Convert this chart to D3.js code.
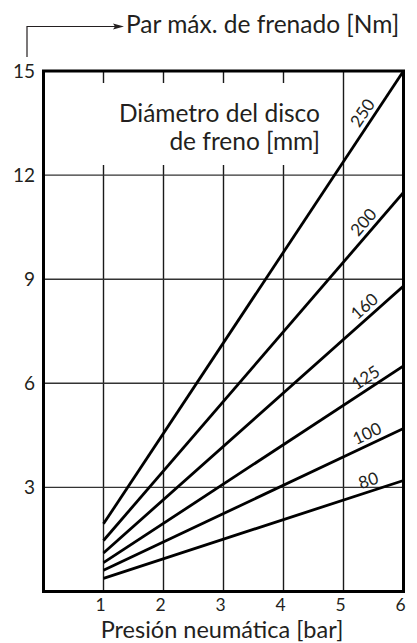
<!DOCTYPE html>
<html><head><meta charset="utf-8">
<script src="https://cdn.jsdelivr.net/npm/d3@7"></script>
<style>body{margin:0;background:#fff}svg{display:block}text{font-family:Lato,sans-serif;fill:#231f20}</style>
</head><body><svg id="c" width="417" height="643"></svg>
<script>
const pressures = [1, 6];
const diameters = ["250", "200", "160", "125", "100", "80"];
const torqueAt1bar = [1.95, 1.47, 1.11, 0.83, 0.61, 0.38];
const torqueAt6bar = [15, 11.5, 8.8, 6.5, 4.7, 3.2];
const xTicks = [1, 2, 3, 4, 5, 6];
const yTicks = [3, 6, 9, 12, 15];
const yTitle = "Par máx. de frenado [Nm]";
const xTitle = "Presión neumática [bar]";
const legendTitle = ["Diámetro del disco", "de freno [mm]"];

const svg = d3.select("#c");
const L = 43.5, R = 403.5, T = 71, B = 591.5;
const x = d3.scaleLinear().domain([0, 6]).range([L, R]);
const y = d3.scaleLinear().domain([0, 15]).range([B, T]);

// grid
const g = svg.append("g");
g.selectAll(".vg").data(xTicks.slice(0, 5)).join("line")
  .attr("x1", d => x(d)).attr("x2", d => x(d)).attr("y1", T).attr("y2", B)
  .attr("stroke", "#1a1a1a").attr("stroke-width", 1.4);
g.selectAll(".hg").data(yTicks.slice(0, 4)).join("line")
  .attr("y1", d => y(d)).attr("y2", d => y(d)).attr("x1", L).attr("x2", R)
  .attr("stroke", "#333").attr("stroke-width", 1.4);

// white box for title inside plot
g.append("rect").attr("x", L + 1).attr("y", 83).attr("width", x(5) - L - 3).attr("height", 82).attr("fill", "#fff");
g.append("text").attr("x", 320).attr("y", 122).attr("text-anchor", "end").attr("font-size", 24.5).text(legendTitle[0]);
g.append("text").attr("x", 320).attr("y", 150).attr("text-anchor", "end").attr("font-size", 24.5).text(legendTitle[1]);

// data lines
svg.append("clipPath").attr("id", "cp").append("rect").attr("x", L).attr("y", T).attr("width", R - L).attr("height", B - T);
const line = d3.line().x(d => x(d[0])).y(d => y(d[1]));
const series = diameters.map((d, i) => ({ name: d, pts: [[pressures[0], torqueAt1bar[i]], [pressures[1], torqueAt6bar[i]]] }));
svg.append("g").attr("clip-path", "url(#cp)").selectAll("path").data(series).join("path")
  .attr("d", s => line(s.pts)).attr("fill", "none").attr("stroke", "#000").attr("stroke-width", 2.8);

// labels along lines
const labX = 5.47;
series.forEach(s => {
  const [p0, p1] = s.pts;
  const v = p0[1] + (p1[1] - p0[1]) * (labX - p0[0]) / (p1[0] - p0[0]);
  const px = x(labX), py = y(v);
  const dx = x(p1[0]) - x(p0[0]), dy = y(p1[1]) - y(p0[1]);
  const ang = Math.atan2(dy, dx) * 180 / Math.PI;
  svg.append("text").attr("transform", `translate(${px},${py}) rotate(${ang}) translate(0,-5)`)
    .attr("text-anchor", "middle").attr("font-size", 17).text(s.name);
});

// frame
svg.append("rect").attr("x", L).attr("y", T).attr("width", R - L).attr("height", B - T)
  .attr("fill", "none").attr("stroke", "#000").attr("stroke-width", 3);

// axes labels
svg.selectAll(".yt").data(yTicks).join("text").attr("x", 35).attr("y", d => y(d) + 6.5)
  .attr("text-anchor", "end").attr("font-size", 19).text(d => d);
svg.selectAll(".xt").data(xTicks).join("text").attr("x", d => x(d) - 3).attr("y", 610.5)
  .attr("text-anchor", "middle").attr("font-size", 17.5).text(d => d);
svg.append("text").attr("x", 222).attr("y", 638).attr("text-anchor", "middle").attr("font-size", 23.5).text(xTitle);

// y title with arrow
svg.append("path").attr("d", "M27,57 V26.5 H116").attr("fill", "none").attr("stroke", "#231f20").attr("stroke-width", 1.2);
svg.append("path").attr("d", "M124,26.5 L113,23.5 L115,26.5 L113,29.5 Z").attr("fill", "#231f20");
svg.append("text").attr("x", 126).attr("y", 33).attr("font-size", 24.5).text(yTitle);
</script></body></html>
